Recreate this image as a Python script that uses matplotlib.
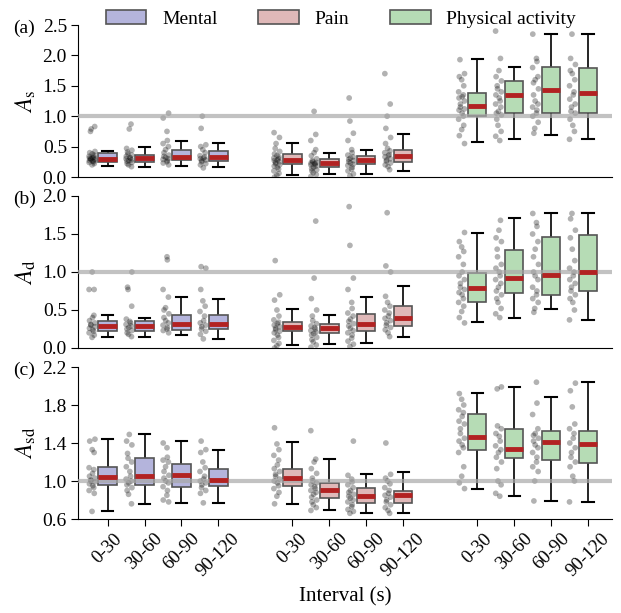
import numpy as np
import matplotlib
matplotlib.use("Agg")
import matplotlib.pyplot as plt
from matplotlib.patches import Patch

plt.rcParams['font.family'] = ['Liberation Serif', 'DejaVu Serif']
plt.rcParams['mathtext.fontset'] = 'stix'

intervals = ['0-30', '30-60', '60-90', '90-120']
groups = ['Mental', 'Pain', 'Physical activity']
group_colors = ['#b4b4dc', '#dfb8b8', '#b6dcb5']
positions = [0, 1, 2, 3, 5, 6, 7, 8, 10, 11, 12, 13]

# box stats per panel: (q1, median, q3, whisker low, whisker high), 12 boxes each
stats_s = [
    (0.25, 0.30, 0.39, 0.18, 0.43), (0.25, 0.31, 0.37, 0.17, 0.49),
    (0.28, 0.33, 0.44, 0.18, 0.60), (0.26, 0.33, 0.43, 0.16, 0.56),
    (0.21, 0.28, 0.38, 0.03, 0.56), (0.17, 0.23, 0.29, 0.05, 0.40),
    (0.21, 0.28, 0.35, 0.05, 0.44), (0.25, 0.35, 0.44, 0.10, 0.70),
    (1.00, 1.17, 1.38, 0.57, 1.94), (1.05, 1.35, 1.58, 0.63, 1.81),
    (1.05, 1.43, 1.81, 0.69, 2.35), (1.05, 1.38, 1.79, 0.63, 2.35),
]
stats_d = [
    (0.23, 0.29, 0.36, 0.14, 0.43), (0.22, 0.29, 0.35, 0.14, 0.39),
    (0.24, 0.31, 0.44, 0.17, 0.67), (0.25, 0.31, 0.43, 0.12, 0.64),
    (0.22, 0.28, 0.34, 0.04, 0.51), (0.20, 0.26, 0.31, 0.05, 0.44),
    (0.23, 0.32, 0.45, 0.07, 0.67), (0.29, 0.39, 0.55, 0.15, 0.81),
    (0.61, 0.79, 0.99, 0.34, 1.51), (0.72, 0.92, 1.29, 0.40, 1.71),
    (0.70, 0.96, 1.46, 0.51, 1.77), (0.75, 1.00, 1.49, 0.37, 1.77),
]
stats_sd = [
    (0.96, 1.04, 1.15, 0.68, 1.44), (0.96, 1.05, 1.24, 0.76, 1.49),
    (0.94, 1.06, 1.18, 0.77, 1.42), (0.95, 1.01, 1.13, 0.77, 1.33),
    (0.95, 1.03, 1.13, 0.76, 1.41), (0.82, 0.91, 0.98, 0.69, 1.23),
    (0.77, 0.84, 0.93, 0.66, 1.07), (0.77, 0.85, 0.90, 0.66, 1.09),
    (1.33, 1.46, 1.71, 0.92, 1.93), (1.24, 1.34, 1.55, 0.84, 1.99),
    (1.22, 1.41, 1.53, 0.79, 1.88), (1.19, 1.39, 1.53, 0.78, 2.04),
]

# individual participant values (read approximately)
pts_s = [
    [0.2, 0.22, 0.24, 0.25, 0.26, 0.27, 0.28, 0.29, 0.3, 0.3, 0.31, 0.32, 0.33, 0.34, 0.36, 0.38, 0.4, 0.42, 0.75, 0.79, 0.83],
    [0.17, 0.2, 0.22, 0.24, 0.26, 0.27, 0.28, 0.3, 0.31, 0.32, 0.34, 0.36, 0.38, 0.41, 0.44, 0.47, 0.79, 0.87],
    [0.2, 0.23, 0.25, 0.27, 0.29, 0.3, 0.32, 0.34, 0.36, 0.4, 0.45, 0.5, 0.55, 0.6, 0.75, 0.97, 1.05],
    [0.15, 0.2, 0.22, 0.25, 0.27, 0.28, 0.3, 0.31, 0.33, 0.35, 0.4, 0.45, 0.5, 0.53, 0.8, 1.0],
    [0.0, 0.03, 0.06, 0.1, 0.13, 0.16, 0.18, 0.2, 0.22, 0.24, 0.25, 0.27, 0.28, 0.3, 0.31, 0.33, 0.35, 0.38, 0.42, 0.47, 0.55, 0.65, 0.73],
    [0.01, 0.04, 0.07, 0.1, 0.12, 0.14, 0.16, 0.18, 0.2, 0.21, 0.22, 0.23, 0.24, 0.25, 0.27, 0.3, 0.35, 0.4, 0.45, 0.6, 0.7, 1.08],
    [0.02, 0.05, 0.1, 0.13, 0.16, 0.19, 0.21, 0.23, 0.25, 0.27, 0.29, 0.31, 0.33, 0.36, 0.4, 0.45, 0.6, 0.72, 0.92, 1.3],
    [0.12, 0.17, 0.2, 0.23, 0.26, 0.28, 0.3, 0.33, 0.35, 0.37, 0.4, 0.43, 0.47, 0.55, 0.65, 0.8, 1.0, 1.2, 1.7],
    [0.55, 0.68, 0.78, 0.85, 0.95, 1.0, 1.05, 1.1, 1.12, 1.15, 1.2, 1.25, 1.3, 1.32, 1.35, 1.4, 1.5, 1.6, 1.65, 1.7, 1.93],
    [0.6, 0.67, 0.75, 0.85, 0.95, 1.02, 1.05, 1.08, 1.15, 1.2, 1.25, 1.3, 1.35, 1.4, 1.45, 1.5, 1.58, 1.65, 1.75, 1.95, 2.4],
    [0.72, 0.8, 0.9, 1.0, 1.05, 1.1, 1.15, 1.2, 1.25, 1.35, 1.45, 1.55, 1.6, 1.65, 1.8, 1.9, 1.95, 2.35],
    [0.62, 0.75, 0.85, 0.95, 1.05, 1.08, 1.15, 1.2, 1.28, 1.35, 1.4, 1.5, 1.6, 1.7, 1.75, 1.85, 1.95, 2.35],
]
pts_d = [
    [0.14, 0.17, 0.2, 0.22, 0.24, 0.26, 0.28, 0.3, 0.31, 0.33, 0.36, 0.4, 0.43, 0.77, 0.77, 1.0],
    [0.15, 0.18, 0.2, 0.23, 0.25, 0.27, 0.29, 0.31, 0.33, 0.35, 0.38, 0.55, 0.77, 0.8, 1.0],
    [0.2, 0.23, 0.25, 0.27, 0.3, 0.33, 0.36, 0.4, 0.45, 0.5, 0.53, 0.67, 0.77, 1.16, 1.2],
    [0.12, 0.18, 0.22, 0.25, 0.28, 0.3, 0.33, 0.36, 0.42, 0.48, 0.55, 0.62, 0.77, 1.05, 1.07],
    [0.0, 0.03, 0.06, 0.1, 0.14, 0.17, 0.2, 0.22, 0.24, 0.26, 0.28, 0.3, 0.32, 0.34, 0.37, 0.42, 0.5, 0.63, 0.7, 1.15],
    [0.01, 0.04, 0.08, 0.11, 0.14, 0.17, 0.19, 0.21, 0.23, 0.25, 0.27, 0.29, 0.32, 0.36, 0.42, 0.5, 0.65, 0.92, 1.67],
    [0.02, 0.05, 0.09, 0.13, 0.17, 0.2, 0.23, 0.26, 0.29, 0.32, 0.35, 0.38, 0.42, 0.46, 0.52, 0.6, 0.77, 0.92, 1.35, 1.86],
    [0.15, 0.2, 0.24, 0.27, 0.3, 0.33, 0.36, 0.39, 0.42, 0.46, 0.5, 0.55, 0.6, 0.68, 1.0, 1.08, 1.78],
    [0.33, 0.4, 0.48, 0.55, 0.6, 0.65, 0.7, 0.73, 0.77, 0.8, 0.85, 0.9, 0.95, 1.0, 1.1, 1.2, 1.27, 1.33, 1.4, 1.52],
    [0.4, 0.45, 0.52, 0.6, 0.65, 0.7, 0.75, 0.8, 0.85, 0.9, 0.95, 1.0, 1.05, 1.1, 1.2, 1.3, 1.4, 1.45, 1.55, 1.68],
    [0.47, 0.52, 0.6, 0.65, 0.7, 0.75, 0.8, 0.9, 0.95, 1.0, 1.1, 1.2, 1.3, 1.4, 1.5, 1.6, 1.65, 1.77],
    [0.37, 0.5, 0.6, 0.65, 0.7, 0.75, 0.8, 0.85, 0.9, 0.95, 1.0, 1.05, 1.15, 1.3, 1.45, 1.55, 1.7, 1.77],
]
pts_sd = [
    [0.68, 0.87, 0.9, 0.93, 0.95, 0.97, 0.99, 1.0, 1.01, 1.03, 1.05, 1.08, 1.12, 1.14, 1.3, 1.33, 1.42, 1.44],
    [0.76, 0.86, 0.9, 0.93, 0.96, 0.98, 1.0, 1.02, 1.05, 1.1, 1.15, 1.2, 1.24, 1.29, 1.38, 1.42, 1.49],
    [0.78, 0.8, 0.85, 0.9, 0.94, 0.98, 1.0, 1.03, 1.06, 1.1, 1.15, 1.2, 1.22, 1.25, 1.35, 1.4],
    [0.77, 0.87, 0.9, 0.93, 0.96, 0.98, 1.0, 1.02, 1.05, 1.1, 1.14, 1.2, 1.3, 1.33, 1.42],
    [0.76, 0.84, 0.88, 0.92, 0.95, 0.98, 1.0, 1.02, 1.05, 1.07, 1.1, 1.13, 1.17, 1.22, 1.27, 1.33, 1.39, 1.56],
    [0.69, 0.72, 0.75, 0.78, 0.8, 0.83, 0.86, 0.88, 0.9, 0.92, 0.94, 0.96, 0.98, 1.0, 1.03, 1.08, 1.13, 1.2, 1.23, 1.53],
    [0.66, 0.68, 0.7, 0.73, 0.75, 0.78, 0.8, 0.82, 0.84, 0.86, 0.88, 0.9, 0.93, 0.96, 0.99, 1.02, 1.06, 1.42],
    [0.66, 0.69, 0.72, 0.75, 0.78, 0.8, 0.83, 0.85, 0.87, 0.9, 0.93, 0.97, 1.0, 1.03, 1.07, 1.4],
    [0.92, 0.98, 1.05, 1.15, 1.3, 1.35, 1.38, 1.42, 1.45, 1.5, 1.55, 1.6, 1.63, 1.68, 1.72, 1.75, 1.8, 1.86, 1.92],
    [0.84, 0.87, 0.96, 1.0, 1.13, 1.2, 1.25, 1.3, 1.33, 1.37, 1.42, 1.47, 1.5, 1.55, 1.58, 1.97, 1.99],
    [0.79, 1.0, 1.1, 1.15, 1.2, 1.25, 1.3, 1.35, 1.38, 1.42, 1.45, 1.48, 1.5, 1.55, 1.7, 1.82, 2.04],
    [0.78, 1.0, 1.05, 1.15, 1.2, 1.25, 1.3, 1.35, 1.4, 1.45, 1.5, 1.55, 1.6, 1.78, 1.95, 2.03],
]

panels = [
    (stats_s, pts_s, r'$A_\mathrm{s}$', (0, 2.5), [0, 0.5, 1.0, 1.5, 2.0, 2.5], '(a)'),
    (stats_d, pts_d, r'$A_\mathrm{d}$', (0, 2.0), [0, 0.5, 1.0, 1.5, 2.0], '(b)'),
    (stats_sd, pts_sd, r'$A_\mathrm{sd}$', (0.6, 2.2), [0.6, 1.0, 1.4, 1.8, 2.2], '(c)'),
]

W, H = 621, 613
fig = plt.figure(figsize=(W / 100, H / 100), dpi=100)
rects = [(25, 177), (196, 348), (367, 519)]
left, right = 78, 612

for k, ((stats, pts, ylab, ylim, yticks, tag), (top, bot)) in enumerate(zip(panels, rects)):
    ax = fig.add_axes([left / W, 1 - bot / H, (right - left) / W, (bot - top) / H])
    bstats = [dict(q1=s[0], med=s[1], q3=s[2], whislo=s[3], whishi=s[4], fliers=[]) for s in stats]
    bp = ax.bxp(bstats, positions=positions, widths=0.5, patch_artist=True,
                showfliers=False,
                boxprops=dict(edgecolor='#555555', linewidth=1.2),
                whiskerprops=dict(color='black', linewidth=1.2),
                capprops=dict(color='black', linewidth=1.5),
                medianprops=dict(color='#b22222', linewidth=3.5, zorder=6),
                capwidths=0.3)
    for i, patch in enumerate(bp['boxes']):
        patch.set_facecolor(group_colors[i // 4])
        patch.set_zorder(3)
    # jittered points left of each box
    for i, vals in enumerate(pts):
        n = len(vals)
        offs = 0.08 * np.sin(np.arange(n) * 2.3 + i)
        ax.scatter(positions[i] - 0.42 + offs, vals, s=17, color='black', alpha=0.3,
                   edgecolors='none', zorder=2)
    ax.axhline(1.0, color='#a8a8a8', linewidth=3, alpha=0.7, zorder=5)
    ax.set_xlim(-0.8, 13.65)
    ax.set_ylim(*ylim)
    ax.set_yticks(yticks)
    ax.set_yticklabels([f'{t:.1f}' for t in yticks])
    ax.set_ylabel(ylab, fontsize=17, labelpad=3)
    ax.spines['top'].set_visible(False)
    ax.spines['right'].set_visible(False)
    ax.tick_params(axis='y', labelsize=14, length=5, pad=3)
    if k < 2:
        ax.tick_params(axis='x', bottom=False, labelbottom=False)
    else:
        ax.set_xticks(positions)
        ax.set_xticklabels(intervals * 3, rotation=45, ha='center', fontsize=13.5)
        ax.tick_params(axis='x', length=5, pad=3)
        ax.set_xlabel('Interval (s)', fontsize=15)
        ax.xaxis.set_label_coords(0.5, -0.45)
    fig.text(13 / W, 1 - (top + 3) / H, tag, fontsize=14, va='center')

handles = [Patch(facecolor=c, edgecolor='#555555', linewidth=1.2) for c in group_colors]
fig.legend(handles, groups, loc='upper center', bbox_to_anchor=(0.549, 1.012), ncol=3,
           frameon=False, fontsize=14, handlelength=2.1, handleheight=0.75,
           columnspacing=2.1, handletextpad=0.8)

fig.savefig('out.png', dpi=100)
